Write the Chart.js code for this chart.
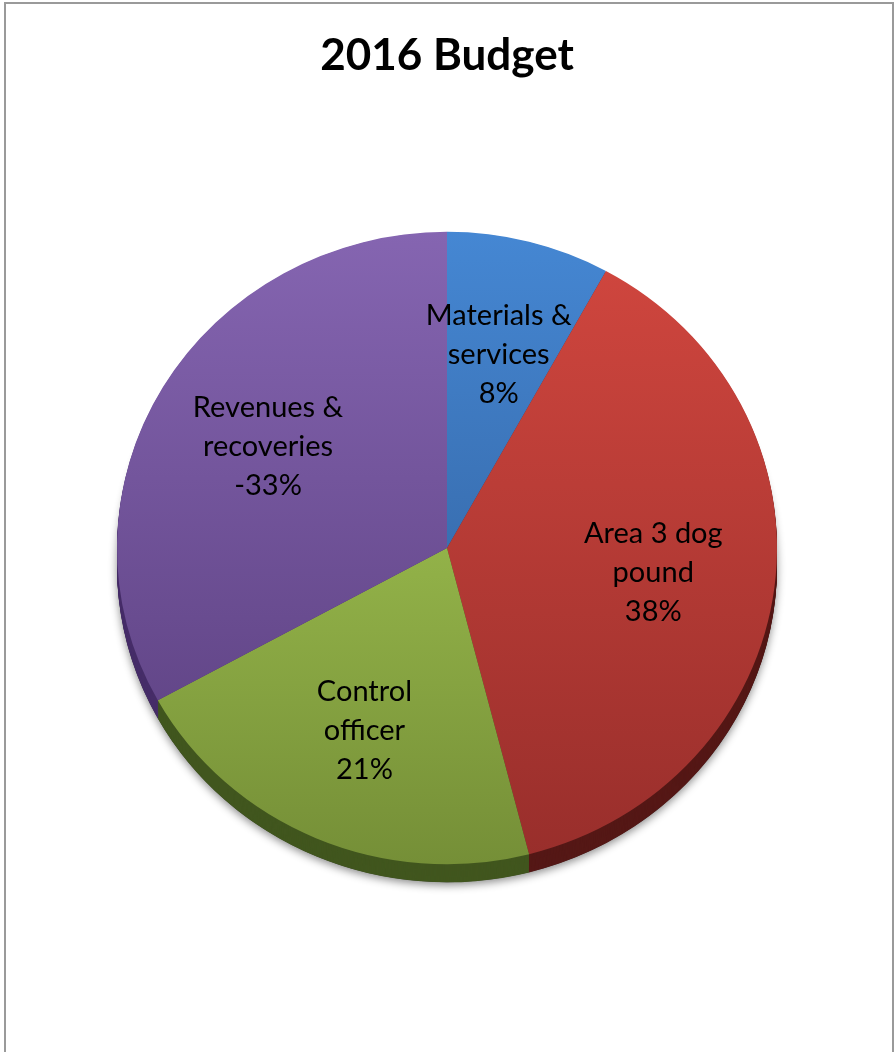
<!DOCTYPE html>
<html>
<head>
<meta charset="utf-8">
<script src="https://cdn.jsdelivr.net/npm/chart.js@4.4.1/dist/chart.umd.min.js"></script>
<style>
  body { margin: 0; background: #fff; }
</style>
</head>
<body>
<canvas id="budgetChart" width="895" height="1052"></canvas>
<script>
// slice names (already split into lines) and their share of the budget
const categories = [['Materials &', 'services'], ['Area 3 dog', 'pound'], ['Control', 'officer'], ['Revenues &', 'recoveries']];
const percents = [8, 38, 21, -33];

const topColors = ['#4587d3', '#d2473f', '#b0d55a', '#8565b1'];
const bottomColors = ['#2d5790', '#982e2b', '#758f37', '#573c7b'];
const sideColors = ['#24446e', '#551816', '#41561e', '#472e69'];

const squash = 0.958;   // top face is a slightly flattened circle
const depth = 18;       // thickness of the pie edge

function faceGradient(ctx, chart, i) {
  const a = chart.chartArea;
  if (!a) return topColors[i];
  const g = ctx.createLinearGradient(0, a.top, 0, a.bottom);
  g.addColorStop(0, topColors[i]);
  g.addColorStop(1, bottomColors[i]);
  return g;
}

const frame = {
  id: 'frame',
  beforeDraw(chart) {
    const ctx = chart.ctx;
    ctx.save();
    ctx.fillStyle = '#fff';
    ctx.fillRect(0, 0, chart.width, chart.height);
    ctx.strokeStyle = '#9a9a9a';
    ctx.lineWidth = 2;
    ctx.strokeRect(5, 3, chart.width - 7, chart.height + 20);
    ctx.restore();
  }
};

const pie3d = {
  id: 'pie3d',
  beforeDatasetsDraw(chart) {
    const ctx = chart.ctx;
    const arcs = chart.getDatasetMeta(0).data;
    const cx = arcs[0].x, cy = arcs[0].y;
    const r = arcs[0].outerRadius;
    const d = depth / squash;

    ctx.save();
    ctx.translate(cx, cy);
    ctx.scale(1, squash);
    ctx.translate(-cx, -cy);

    // soft shadow under the edge
    ctx.save();
    ctx.shadowColor = 'rgba(0,0,0,0.45)';
    ctx.shadowBlur = 9;
    ctx.shadowOffsetY = 3;
    ctx.fillStyle = '#333';
    ctx.beginPath();
    ctx.arc(cx, cy + d, r, 0, Math.PI * 2);
    ctx.fill();
    ctx.restore();

    // the edge, stacked copies of every slice
    for (let k = Math.ceil(d); k >= 1; k--) {
      arcs.forEach((arc, i) => {
        ctx.beginPath();
        ctx.moveTo(cx, cy + k);
        ctx.arc(cx, cy + k, r, arc.startAngle, arc.endAngle);
        ctx.closePath();
        ctx.fillStyle = sideColors[i];
        ctx.fill();
      });
    }
  },
  afterDatasetsDraw(chart) {
    const ctx = chart.ctx;
    ctx.restore();

    const arcs = chart.getDatasetMeta(0).data;
    ctx.save();
    ctx.fillStyle = '#000';
    ctx.font = '29px Lato';
    ctx.textAlign = 'center';
    ctx.textBaseline = 'middle';
    arcs.forEach((arc, i) => {
      const mid = (arc.startAngle + arc.endAngle) / 2;
      const rr = arc.outerRadius * 0.63;
      const x = arc.x + Math.cos(mid) * rr;
      const y = arc.y + Math.sin(mid) * rr * squash;
      const lines = categories[i].concat([percents[i] + '%']);
      const lh = 39;
      lines.forEach((t, j) => {
        ctx.fillText(t, x, y + (j - (lines.length - 1) / 2) * lh);
      });
    });
    ctx.restore();
  }
};

new Chart(document.getElementById('budgetChart'), {
  type: 'pie',
  data: {
    labels: categories,
    datasets: [{
      data: percents.map(Math.abs),
      backgroundColor: (c) => faceGradient(c.chart.ctx, c.chart, c.dataIndex),
      borderWidth: 0,
      hoverOffset: 0,
      clip: false
    }]
  },
  options: {
    responsive: false,
    animation: false,
    events: [],
    layout: { padding: { left: 117, right: 118, top: 0, bottom: 174 } },
    plugins: {
      legend: { display: false },
      tooltip: { enabled: false },
      title: {
        display: true,
        text: '2016 Budget',
        color: '#000',
        font: { family: 'Lato', size: 44, weight: 'bold', lineHeight: 1.2 },
        padding: { top: 29, bottom: 136.2 }
      }
    }
  },
  plugins: [frame, pie3d]
});
</script>
</body>
</html>
